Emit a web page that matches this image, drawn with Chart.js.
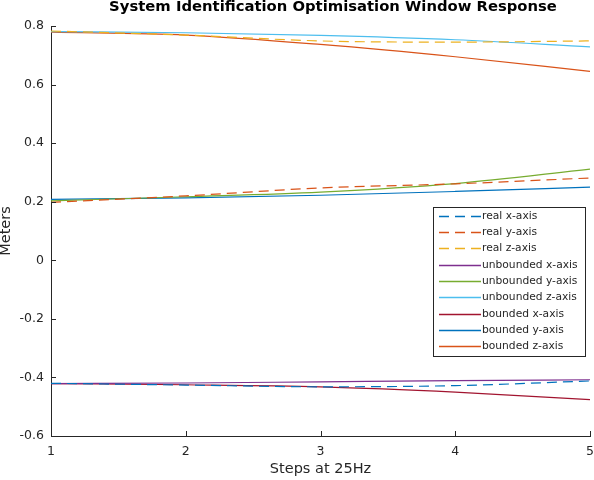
<!DOCTYPE html>
<html>
<head>
<meta charset="utf-8">
<script src="https://cdn.jsdelivr.net/npm/chart.js@4.4.1/dist/chart.umd.min.js"></script>
<style>
html,body{margin:0;padding:0;background:#fff;}
#wrap{width:594px;height:480px;}
</style>
</head>
<body>
<div id="wrap"><canvas id="c" width="594" height="480"></canvas></div>
<script>
const steps = [1, 2, 3, 4, 5];
const realX = [-0.420, -0.426, -0.432, -0.428, -0.412];
const realY = [0.198, 0.220, 0.247, 0.261, 0.281];
const realZ = [0.783, 0.769, 0.749, 0.745, 0.749];
const unboundedX = [-0.421, -0.419, -0.415, -0.411, -0.408];
const unboundedY = [0.203, 0.217, 0.233, 0.262, 0.311];
const unboundedZ = [0.781, 0.777, 0.768, 0.753, 0.729];
const boundedX = [-0.421, -0.425, -0.432, -0.450, -0.476];
const boundedY = [0.208, 0.213, 0.222, 0.235, 0.250];
const boundedZ = [0.779, 0.769, 0.737, 0.695, 0.645];
const yTicks = [-0.6, -0.4, -0.2, 0, 0.2, 0.4, 0.6, 0.8];
const xTicks = [1, 2, 3, 4, 5];

const titleText = 'System Identification Optimisation Window Response';
const xLabel = 'Steps at 25Hz';
const yLabel = 'Meters';
const AXC = '#262626';

function pts(arr){ return arr.map((v,i)=>({x: steps[i], y: v})); }
function ds(label, arr, color, dashed){
  return {label, data: pts(arr), borderColor: color, backgroundColor: color,
    borderWidth: 1.2, pointRadius: 0, fill: false, cubicInterpolationMode: 'monotone',
    borderDash: dashed ? [10, 6] : []};
}

const datasets = [
  ds('real x-axis', realX, '#0072BD', true),
  ds('real y-axis', realY, '#D95319', true),
  ds('real z-axis', realZ, '#EDB120', true),
  ds('unbounded x-axis', unboundedX, '#7E2F8E', false),
  ds('unbounded y-axis', unboundedY, '#77AC30', false),
  ds('unbounded z-axis', unboundedZ, '#4DBEEE', false),
  ds('bounded x-axis', boundedX, '#A2142F', false),
  ds('bounded y-axis', boundedY, '#0072BD', false),
  ds('bounded z-axis', boundedZ, '#D95319', false)
];

const extras = {
  id: 'extras',
  afterDraw(chart){
    const ctx = chart.ctx, a = chart.chartArea;
    const xs = chart.scales.x, ys = chart.scales.y;
    ctx.save();
    // inward ticks
    ctx.strokeStyle = AXC; ctx.lineWidth = 1;
    ctx.beginPath();
    xTicks.forEach(v=>{ const px = Math.round(xs.getPixelForValue(v))+0.5; ctx.moveTo(px, a.bottom); ctx.lineTo(px, a.bottom-5); });
    yTicks.forEach(v=>{ const py = Math.round(ys.getPixelForValue(v))+0.5; ctx.moveTo(a.left, py); ctx.lineTo(a.left+5, py); });
    ctx.stroke();
    // title
    ctx.fillStyle = '#000';
    ctx.font = 'bold 14.8px "DejaVu Sans"';
    ctx.textAlign = 'center'; ctx.textBaseline = 'middle';
    ctx.fillText(titleText, 333, 7.5);
    // legend
    const bx = 433.5, by = 207.5, bw = 152, bh = 149;
    ctx.fillStyle = '#fff';
    ctx.fillRect(bx, by, bw, bh);
    ctx.strokeStyle = AXC; ctx.lineWidth = 1;
    ctx.strokeRect(bx, by, bw, bh);
    ctx.font = '10.7px "DejaVu Sans"';
    ctx.textAlign = 'left';
    chart.data.datasets.forEach((d, i)=>{
      const cy = Math.round(215.7 + i*16.3) + 0.5;
      ctx.strokeStyle = d.borderColor; ctx.lineWidth = 1.3;
      ctx.setLineDash(d.borderDash.length ? [10, 6] : []);
      ctx.beginPath(); ctx.moveTo(439, cy); ctx.lineTo(481, cy); ctx.stroke();
      ctx.setLineDash([]);
      ctx.fillStyle = AXC;
      ctx.fillText(d.label, 482, cy);
    });
    ctx.restore();
  }
};

new Chart(document.getElementById('c'), {
  type: 'line',
  data: { datasets },
  options: {
    responsive: false, animation: false, devicePixelRatio: 1,
    layout: { padding: { top: 26, right: 4, left: 0, bottom: 0 } },
    plugins: { legend: { display: false }, title: { display: false }, tooltip: { enabled: false } },
    scales: {
      x: {
        type: 'linear', min: 1, max: 5,
        afterFit(s){ s.height = 44; s.paddingLeft = 0; s.paddingRight = 0; },
        afterBuildTicks(s){ s.ticks = xTicks.map(v=>({value: v})); },
        grid: { display: false, drawTicks: false },
        border: { display: true, color: AXC, width: 1 },
        ticks: { color: AXC, font: { family: 'DejaVu Sans', size: 12.5 }, padding: 8, maxRotation: 0,
          callback: v => String(v) },
        title: { display: true, text: xLabel, color: AXC, font: { family: 'DejaVu Sans', size: 14.5 }, padding: { top: 0, bottom: 2 } }
      },
      y: {
        type: 'linear', min: -0.6, max: 0.8,
        afterFit(s){ s.width = 51; s.paddingTop = 0; s.paddingBottom = 0; },
        afterBuildTicks(s){ s.ticks = yTicks.map(v=>({value: v})); },
        grid: { display: false, drawTicks: false },
        border: { display: true, color: AXC, width: 1 },
        ticks: { color: AXC, font: { family: 'DejaVu Sans', size: 12.5 }, padding: 7,
          callback: v => { const r = Math.round(v*10)/10; return r === 0 ? '0' : r.toFixed(1); } },
        title: { display: true, text: yLabel, color: AXC, font: { family: 'DejaVu Sans', size: 14.5 }, padding: { top: -2, bottom: 0 } }
      }
    }
  },
  plugins: [extras]
});
</script>
</body>
</html>
